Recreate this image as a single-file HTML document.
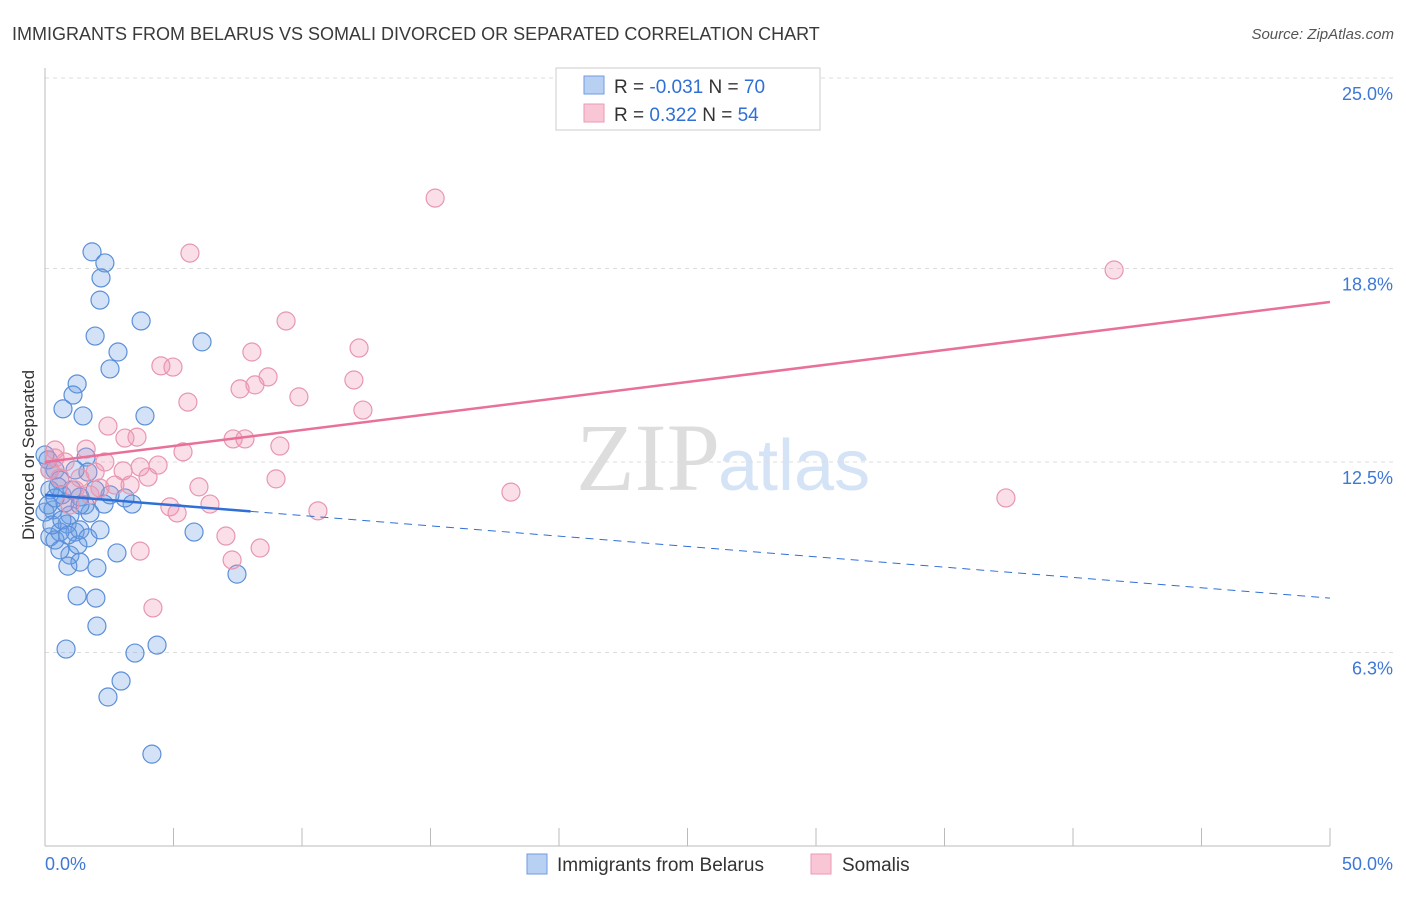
<!DOCTYPE html>
<html><head><meta charset="utf-8"><style>
body{margin:0;background:#fff;font-family:"Liberation Sans",sans-serif}
#wrap{position:relative;width:1406px;height:892px}
</style></head><body>
<div id="wrap">
<svg id="svg" width="1406" height="892" xmlns="http://www.w3.org/2000/svg">
<text x="12" y="40" font-size="18" fill="#3a3a3a">IMMIGRANTS FROM BELARUS VS SOMALI DIVORCED OR SEPARATED CORRELATION CHART</text>
<text x="1394" y="39" font-size="15" fill="#555" font-style="italic" text-anchor="end">Source: ZipAtlas.com</text>
<text x="720" y="490" font-size="96" fill="#ddd" text-anchor="end" font-family="Liberation Serif">ZIP</text>
<text x="718" y="490" font-size="72" fill="#d4e3f5">atlas</text>
<g id="grid"></g><g id="axes"></g><g id="marks"></g>
<text transform="translate(34,455) rotate(-90)" font-size="17" fill="#333" text-anchor="middle">Divorced or Separated</text>
<rect x="556" y="68" width="264" height="62" fill="#fff" stroke="#ccc"/>
<rect x="584" y="76" width="20" height="18" fill="#b8d1f3" stroke="#6f9be0"/>
<rect x="584" y="104" width="20" height="18" fill="#f9c6d5" stroke="#ec9ab5"/>
<text x="614" y="93" font-size="19" fill="#333">R = <tspan fill="#2f6fd6">-0.031</tspan>   N = <tspan fill="#2f6fd6">70</tspan></text>
<text x="614" y="121" font-size="19" fill="#333">R =  <tspan fill="#2f6fd6"> 0.322</tspan>   N = <tspan fill="#2f6fd6">54</tspan></text>
<rect x="527" y="854" width="20" height="20" fill="#b8d1f3" stroke="#6f9be0"/>
<text x="557" y="871" font-size="19" fill="#333">Immigrants from Belarus</text>
<rect x="811" y="854" width="20" height="20" fill="#f9c6d5" stroke="#ec9ab5"/>
<text x="842" y="871" font-size="19" fill="#333">Somalis</text>
</svg></div>
<script>
const yTicks=[25.0,18.8,12.5,6.3];
const yTickLabels=["25.0%","18.8%","12.5%","6.3%"];
const xTickLabels=["0.0%","50.0%"];
const belarusX=[1.83,2.33,2.18,2.14,3.74,6.11,1.95,2.84,2.53,1.25,1.09,0.70,1.48,3.89,1.60,0.12,0.39,0.58,1.67,0.19,0.66,1.36,2.30,3.39,3.11,0.31,0.97,1.75,0,0.86,1.17,1.36,0.19,0.58,1.67,2.14,0.39,5.80,2.80,0.97,1.36,0.89,2.02,7.47,1.25,1.98,2.02,0.82,3.50,4.36,2.96,2.45,4.16,0,0.19,0.51,0.12,0.78,1.05,1.56,2.53,0.27,1.28,0.58,0.66,1.17,1.95,0.39,0.89,1.36];
const belarusY=[19.34,18.98,18.49,17.77,17.09,16.41,16.60,16.08,15.53,15.04,14.68,14.23,14.00,14.00,12.66,12.57,12.24,11.91,12.17,11.59,11.43,11.36,11.13,11.13,11.33,10.94,10.77,10.84,10.87,10.48,10.22,10.29,10.06,10.22,10.03,10.29,9.96,10.22,9.54,9.47,9.24,9.11,9.05,8.85,8.14,8.07,7.16,6.41,6.28,6.54,5.37,4.85,2.99,12.73,12.24,11.69,11.10,11.17,11.59,11.10,11.43,10.45,9.80,9.64,10.61,12.24,11.59,11.33,10.12,11.10];
const somaliX=[15.18,5.64,41.6,9.38,8.05,12.22,4.51,4.98,8.68,12.02,7.59,8.17,9.88,5.56,12.37,2.45,3.11,3.58,7.32,7.78,9.14,1.60,5.37,0.39,3.70,4.40,3.04,1.95,0.58,4.01,8.99,1.17,5.99,2.14,2.72,3.31,18.13,37.39,4.86,5.14,6.42,10.62,7.04,7.28,8.37,3.70,4.20,0.19,0.78,1.36,0.39,1.75,0.97,2.33];
const somaliY=[21.09,19.30,18.75,17.09,16.08,16.21,15.63,15.59,15.27,15.17,14.88,15.01,14.62,14.45,14.19,13.67,13.28,13.31,13.25,13.25,13.02,12.92,12.83,12.63,12.34,12.40,12.21,12.17,11.98,12.01,11.95,11.59,11.69,11.65,11.75,11.75,11.52,11.33,11.04,10.84,11.13,10.91,10.09,9.31,9.70,9.60,7.75,12.24,12.50,11.98,12.89,11.43,11.10,12.50];
const belarusTrend=[11.43,8.07]; const belarusSolidEnd=8;
const somaliTrend=[12.5,17.71];
const NS="http://www.w3.org/2000/svg";
const sx=v=>45+v*25.7, sy=v=>846-v*30.72;
function mk(p,t,a){const e=document.createElementNS(NS,t);for(const k in a)e.setAttribute(k,a[k]);p.appendChild(e);return e;}
const grid=document.getElementById('grid'),axes=document.getElementById('axes'),marks=document.getElementById('marks');
yTicks.forEach((t,i)=>{
 const l=mk(grid,'line',{x1:45,x2:1394,y1:sy(t),y2:sy(t),stroke:'#ddd','stroke-dasharray':'4,4'});
 
 
 const tx=mk(grid,'text',{x:1393,y:sy(t)+22,'font-size':18,fill:'#3d78d6','text-anchor':'end'});
 tx.textContent=yTickLabels[i];
 
 
});
const ax=mk(axes,'line',{x1:45,x2:1330,y1:846,y2:846,stroke:'#bbb'});


const ay=mk(axes,'line',{x1:45,x2:45,y1:68,y2:846,stroke:'#bbb'});


for(let v=0;v<=50;v+=5){const t=mk(axes,'line',{x1:sx(v),x2:sx(v),y1:828,y2:846,stroke:'#bbb'});
 
 }
[[0,'start',45],[50,'end',1393]].forEach((d,i)=>{const t=mk(axes,'text',{x:d[2],y:870,'font-size':18,fill:'#3d78d6','text-anchor':d[1]});
 t.textContent=xTickLabels[i];
 
 });
function pts(X,Y,fill,stroke,name){X.forEach((x,i)=>{const c=mk(marks,'circle',{cx:sx(x),cy:sy(Y[i]),r:9,fill:fill,stroke:stroke,'stroke-width':1.2});
 
 });}
pts(belarusX,belarusY,'rgba(110,160,230,0.3)','#5b8fd9','point-belarus');
pts(somaliX,somaliY,'rgba(240,150,180,0.3)','#e896b0','point-somali');
const bAt=x=>belarusTrend[0]+(belarusTrend[1]-belarusTrend[0])*x/50;
const l1=mk(marks,'line',{x1:sx(0),y1:sy(bAt(0)),x2:sx(belarusSolidEnd),y2:sy(bAt(belarusSolidEnd)),stroke:'#2f6fd6','stroke-width':2.5});


const l2=mk(marks,'line',{x1:sx(belarusSolidEnd),y1:sy(bAt(belarusSolidEnd)),x2:sx(50),y2:sy(bAt(50)),stroke:'#2f6fd6','stroke-width':1,'stroke-dasharray':'8,6'});


const l3=mk(marks,'line',{x1:sx(0),y1:sy(somaliTrend[0]),x2:sx(50),y2:sy(somaliTrend[1]),stroke:'#e8709a','stroke-width':2.5});


</script>
</body></html>
